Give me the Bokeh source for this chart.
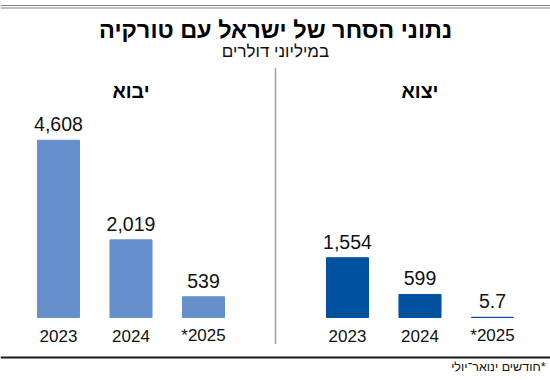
from bokeh.plotting import figure
from bokeh.models import FactorRange, Range1d, ColumnDataSource, Label, Span
from bokeh.core.properties import value
from bokeh.embed import file_html
from bokeh.resources import INLINE

# ---- data ----
title = "נתוני הסחר של ישראל עם טורקיה"
subtitle = "במיליוני דולרים"
footnote = "חודשים ינואר־יולי*"
groups = ["יבוא", "יצוא"]
years = ["2023", "2024", "*2025"]
imports = [4608, 2019, 539]
exports = [1554, 599, 5.7]
import_labels = ["4,608", "2,019", "539"]
export_labels = ["1,554", "599", "5.7"]
group_colors = ["#6690CB", "#0050A0"]

FONT = "Liberation Sans"
W, H = 550, 380
GP = 0.986

factors = [(g, y) for g in groups for y in years]
x_range = FactorRange(*factors, group_padding=GP, range_padding=0.3,
                      range_padding_units="absolute")

p = figure(width=W, height=H, x_range=x_range, y_range=Range1d(-1638, 8242),
           output_backend="svg", toolbar_location=None, min_border=0,
           x_axis_location=None, y_axis_location=None, outline_line_color=None)
p.grid.visible = False
p.extra_y_ranges = {"px": Range1d(H, 0)}

src = ColumnDataSource(dict(
    x=factors,
    top=imports + exports,
    label=import_labels + export_labels,
    year=years + years,
    color=[group_colors[0]] * 3 + [group_colors[1]] * 3,
))

p.vbar(x="x", top="top", bottom=0, width=0.58, fill_color="color",
       line_color="color", line_width=1, source=src)

p.text(x="x", y="top", text="label", source=src, text_align="center",
       text_baseline="alphabetic", y_offset=-16, text_font=value(FONT),
       text_font_size="19.5px", text_color="#111111")
p.text(x="x", y=0, text="year", source=src, text_align="center",
       text_baseline="alphabetic", y_offset=18, text_font=value(FONT),
       text_font_size="17px", text_color="#111111")

# panel titles over middle bar of each group
p.text(x=[(g, years[1]) for g in groups], y=[90, 90], y_range_name="px",
       text=groups, text_align="center", text_baseline="alphabetic",
       text_font=value(FONT), text_font_style="bold", text_font_size="19.5px",
       text_color="#000000")

# separator between the two panels
sep = ColumnDataSource(dict(x=[(groups[0], years[-1], (1 + GP) / 2)],
                            y0=[68], y1=[343]))
p.segment(x0="x", y0="y0", x1="x", y1="y1", source=sep, y_range_name="px",
          line_color="#444444", line_width=1.5, line_dash="1 1")

# title, subtitle, footnote
p.add_layout(Label(x=W / 2, y=29, x_units="screen", y_range_name="px",
                   text=title, text_align="center", text_baseline="alphabetic",
                   text_font=FONT, text_font_style="bold",
                   text_font_size="23.5px", text_color="#000000"))
p.add_layout(Label(x=W / 2, y=51, x_units="screen", y_range_name="px",
                   text=subtitle, text_align="center", text_baseline="alphabetic",
                   text_font=FONT, text_font_size="17px", text_color="#111111"))
p.add_layout(Label(x=545, y=366, x_units="screen", y_range_name="px",
                   text=footnote, text_align="right", text_baseline="alphabetic",
                   text_font=FONT, text_font_size="12.5px", text_color="#111111"))

# decorative horizontal lines
for loc, col, lw in [(5, "#808080", 1), (7.5, "#808080", 1), (357, "#1a1a1a", 2)]:
    p.add_layout(Span(location=loc, dimension="width", y_range_name="px",
                      line_color=col, line_width=lw))

open("out.html", "w").write(file_html(p, INLINE))
